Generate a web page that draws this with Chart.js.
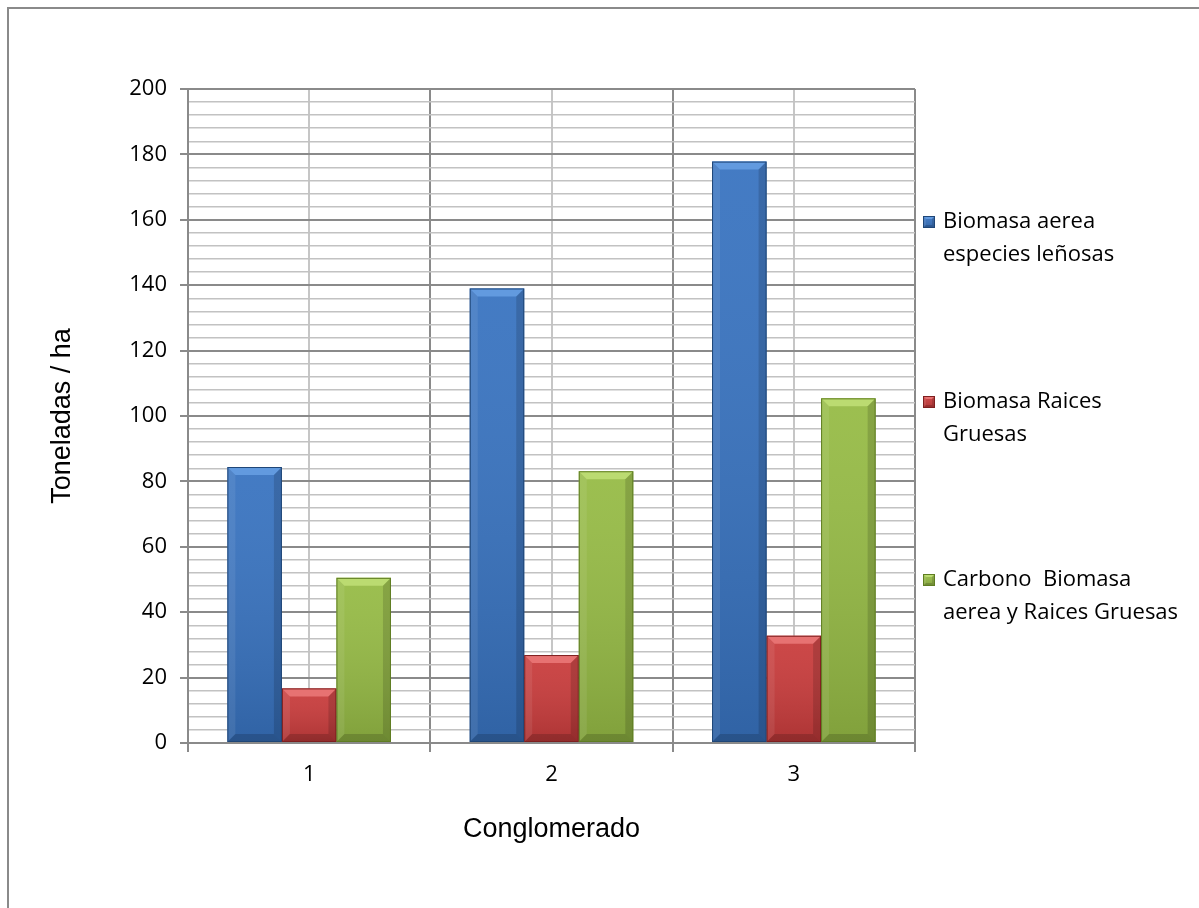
<!DOCTYPE html>
<html lang="es">
<head>
<meta charset="utf-8">
<title>Biomasa y carbono por conglomerado</title>
<script src="https://cdn.jsdelivr.net/npm/chart.js@4"></script>
<style>
  html, body { margin: 0; padding: 0; background: #fff; }
  #holder { width: 1199px; height: 908px; }
</style>
</head>
<body>
<div id="holder"><canvas id="chart" width="1199" height="908"></canvas></div>
<script>
  // toneladas por hectarea en cada conglomerado
  var conglomerados = ['1', '2', '3'];
  var biomasaAerea = [84.4, 139.0, 177.8];
  var biomasaRaices = [16.7, 26.9, 32.8];
  var carbonoTotal = [50.5, 83.1, 105.4];

  // nombres de series, partidos en lineas como en la leyenda
  var nombresSeries = [
    ['Biomasa aerea', 'especies leñosas'],
    ['Biomasa Raices', 'Gruesas'],
    ['Carbono  Biomasa', 'aerea y Raices Gruesas']
  ];

  var yMin = 0, yMax = 200, pasoMayor = 20, pasoMenor = 4;

  var tonos = [
    { fill: '#3873c0', edge: '#1f4677', light: '#6aa2e6' },
    { fill: '#c93c3c', edge: '#7e1f1f', light: '#ee7d7d' },
    { fill: '#96bb45', edge: '#5f7d22', light: '#c3e279' }
  ];

  var fuenteTexto = '"Open Sans", "Noto Sans", sans-serif';
  var fuenteTitulo = '"Liberation Sans", Arial, sans-serif';

  // fondo blanco y marco exterior
  var marco = {
    id: 'marco',
    beforeDraw: function (chart) {
      var ctx = chart.ctx;
      ctx.save();
      ctx.fillStyle = '#ffffff';
      ctx.fillRect(0, 0, chart.width, chart.height);
      ctx.strokeStyle = '#8a8a8a';
      ctx.lineWidth = 2;
      ctx.beginPath();
      ctx.moveTo(8, chart.height + 5);
      ctx.lineTo(8, 8);
      ctx.lineTo(chart.width + 5, 8);
      ctx.stroke();
      ctx.restore();
    }
  };

  function bisel(ctx, left, top, right, bottom, tono, b) {
    var g = ctx.createLinearGradient(0, top, 0, bottom);
    g.addColorStop(0, 'rgba(255,255,255,0.06)');
    g.addColorStop(1, 'rgba(0,0,0,0.14)');
    ctx.fillStyle = g;
    ctx.fillRect(left, top, right - left, bottom - top);
    // borde superior claro
    ctx.fillStyle = tono.light;
    ctx.globalAlpha = 0.8;
    ctx.beginPath();
    ctx.moveTo(left, top);
    ctx.lineTo(right, top);
    ctx.lineTo(right - b, top + b);
    ctx.lineTo(left + b, top + b);
    ctx.closePath();
    ctx.fill();
    ctx.globalAlpha = 1;
    // lados
    ctx.fillStyle = 'rgba(255,255,255,0.08)';
    ctx.beginPath();
    ctx.moveTo(left, top);
    ctx.lineTo(left + b, top + b);
    ctx.lineTo(left + b, bottom - b);
    ctx.lineTo(left, bottom);
    ctx.closePath();
    ctx.fill();
    ctx.fillStyle = 'rgba(0,0,0,0.14)';
    ctx.beginPath();
    ctx.moveTo(right, top);
    ctx.lineTo(right - b, top + b);
    ctx.lineTo(right - b, bottom - b);
    ctx.lineTo(right, bottom);
    ctx.closePath();
    ctx.fill();
    // borde inferior oscuro
    ctx.fillStyle = 'rgba(0,0,0,0.16)';
    ctx.beginPath();
    ctx.moveTo(left, bottom);
    ctx.lineTo(right, bottom);
    ctx.lineTo(right - b, bottom - b);
    ctx.lineTo(left + b, bottom - b);
    ctx.closePath();
    ctx.fill();
    ctx.strokeStyle = tono.edge;
    ctx.lineWidth = 1;
    ctx.strokeRect(left + 0.5, top + 0.5, right - left - 1, bottom - top - 1);
  }

  // relieve de las barras, a partir de la geometria de cada barra
  var relieve = {
    id: 'relieve',
    afterDatasetsDraw: function (chart) {
      var ctx = chart.ctx;
      ctx.save();
      chart.data.datasets.forEach(function (ds, i) {
        var meta = chart.getDatasetMeta(i);
        meta.data.forEach(function (bar) {
          var left = bar.x - bar.width / 2;
          var right = bar.x + bar.width / 2;
          var b = Math.min(8, (bar.base - bar.y) / 3);
          bisel(ctx, left, bar.y, right, bar.base, tonos[i], b);
        });
      });
      ctx.restore();
    }
  };

  // leyenda a la derecha, con texto en dos lineas
  var leyenda = {
    id: 'leyenda',
    afterDraw: function (chart) {
      var ctx = chart.ctx;
      var x0 = 923, lineas = 33, lado = 12;
      var centros = [222, 402, 580];
      ctx.save();
      ctx.font = '22px ' + fuenteTexto;
      ctx.textBaseline = 'middle';
      nombresSeries.forEach(function (texto, i) {
        var y = centros[i];
        ctx.fillStyle = tonos[i].fill;
        ctx.fillRect(x0, y - lado / 2, lado, lado);
        bisel(ctx, x0, y - lado / 2, x0 + lado, y + lado / 2, tonos[i], 3);
        ctx.fillStyle = '#000000';
        texto.forEach(function (linea, k) {
          ctx.fillText(linea, x0 + 20, y + k * lineas);
        });
      });
      ctx.restore();
    }
  };

  var datasets = [biomasaAerea, biomasaRaices, carbonoTotal].map(function (valores, i) {
    return {
      label: nombresSeries[i].join(' '),
      data: valores,
      backgroundColor: tonos[i].fill,
      borderColor: tonos[i].edge,
      borderWidth: 0,
      categoryPercentage: 0.675,
      barPercentage: 1.0
    };
  });

  function esMayor(v) {
    return Math.abs(v % pasoMayor) < 1e-6;
  }

  var config = {
    type: 'bar',
    data: {
      labels: conglomerados,
      datasets: datasets
    },
    options: {
      responsive: false,
      animation: false,
      layout: {
        padding: { top: 89, right: 284, left: 0, bottom: 0 }
      },
      plugins: {
        legend: { display: false },
        tooltip: { enabled: false }
      },
      scales: {
        x: {
          offset: true,
          grid: {
            offset: true,
            color: '#8a8a8a',
            lineWidth: 2,
            tickLength: 9,
            tickColor: '#8a8a8a'
          },
          border: { color: '#8a8a8a', width: 2 },
          ticks: {
            color: '#000000',
            padding: 10,
            font: { family: fuenteTexto, size: 22 }
          },
          title: {
            display: true,
            text: 'Conglomerado',
            color: '#000000',
            font: { family: fuenteTitulo, size: 27 },
            padding: { top: 0, bottom: 62 }
          },
          afterFit: function (scale) { scale.height = 165; }
        },
        centros: {
          type: 'category',
          labels: conglomerados,
          position: 'bottom',
          offset: true,
          grid: {
            offset: false,
            color: '#c6c6c6',
            lineWidth: 2,
            drawTicks: false
          },
          border: { display: false },
          ticks: { display: false },
          afterFit: function (scale) { scale.height = 0; }
        },
        y: {
          min: yMin,
          max: yMax,
          grid: {
            color: function (c) { return esMayor(c.tick.value) ? '#8a8a8a' : '#c2c2c2'; },
            lineWidth: function (c) { return esMayor(c.tick.value) ? 2 : 1.5; },
            tickColor: function (c) { return esMayor(c.tick.value) ? '#8a8a8a' : 'rgba(0,0,0,0)'; },
            tickLength: 8
          },
          border: { color: '#8a8a8a', width: 2 },
          ticks: {
            stepSize: pasoMenor,
            autoSkip: false,
            padding: 13,
            color: '#000000',
            font: { family: fuenteTexto, size: 22 },
            callback: function (v) { return esMayor(v) ? String(v) : ''; }
          },
          title: {
            display: true,
            text: 'Toneladas / ha',
            color: '#000000',
            font: { family: fuenteTitulo, size: 27 },
            padding: { top: 46, bottom: 0 }
          },
          afterFit: function (scale) { scale.width = 188; }
        }
      }
    },
    plugins: [marco, relieve, leyenda]
  };

  var grafico = new Chart(document.getElementById('chart').getContext('2d'), config);
</script>
</body>
</html>
